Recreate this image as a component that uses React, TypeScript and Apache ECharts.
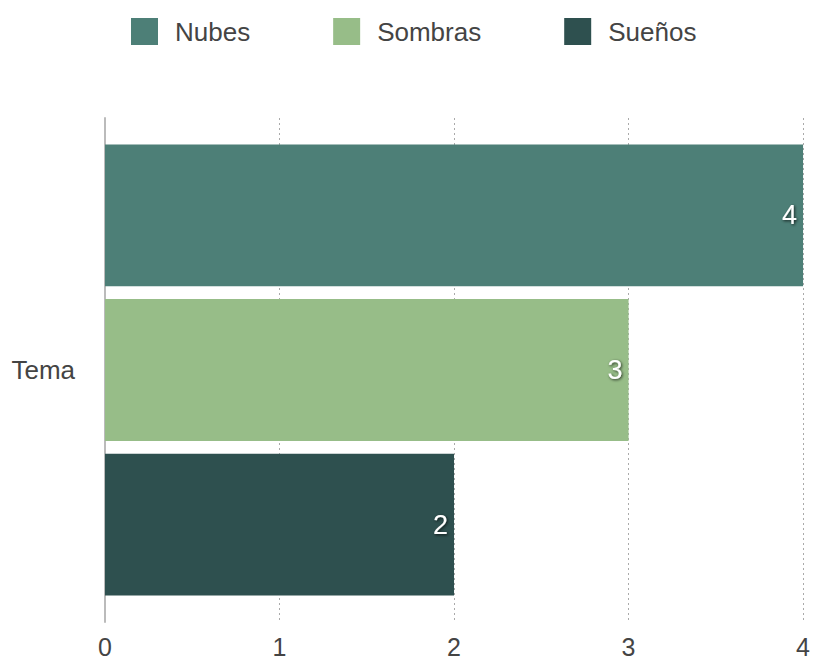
import React, { useEffect, useRef } from "react";
import * as echarts from "echarts";

const categories = ["Tema"];
const seriesNames = ["Nubes", "Sombras", "Sueños"];
const nubesValues = [4];
const sombrasValues = [3];
const suenosValues = [2];
const xTicks = [0, 1, 2, 3, 4];
const colors = ["#4d7f77", "#97bd88", "#2e504f"];

export default function App() {
  const ref = useRef<HTMLDivElement>(null);
  useEffect(() => {
    document.body.style.margin = "0";
    const chart = echarts.init(ref.current!, null, { renderer: "svg" });
    const font = "'Liberation Sans', Arial, Helvetica, sans-serif";
    const label = {
      show: true,
      position: "insideRight",
      distance: 6,
      color: "#ffffff",
      fontSize: 27,
      fontFamily: font,
      textShadowColor: "rgba(0,0,0,0.75)",
      textShadowBlur: 3,
      textShadowOffsetX: 1,
      textShadowOffsetY: 1,
    };
    const data = [nubesValues, sombrasValues, suenosValues];
    chart.setOption({
      animation: false,
      color: colors,
      textStyle: { fontFamily: font },
      legend: {
        top: 18,
        left: 131,
        padding: 0,
        itemWidth: 27,
        itemHeight: 27,
        itemGap: 83,
        icon: "rect",
        textStyle: { fontSize: 26, color: "#444", fontFamily: font, padding: [0, 0, 0, 12] },
        data: seriesNames,
      },
      grid: { left: 105, right: 9, top: 118, bottom: 38, containLabel: false },
      xAxis: {
        type: "value",
        min: xTicks[0],
        max: xTicks[xTicks.length - 1],
        interval: 1,
        axisLine: { show: false },
        axisTick: { show: false },
        axisLabel: { fontSize: 25, color: "#444", margin: 12, fontFamily: font },
        splitLine: { show: true, lineStyle: { color: "#aaa", type: [2, 3], width: 1 } },
      },
      yAxis: {
        type: "category",
        data: categories,
        inverse: true,
        axisLine: { show: true, lineStyle: { color: "#bbb", width: 2 } },
        axisTick: { show: false },
        axisLabel: { fontSize: 26, color: "#444", margin: 30, fontFamily: font },
      },
      series: seriesNames.map((name, i) => ({
        name,
        type: "bar",
        data: data[i],
        barGap: "9%",
        barCategoryGap: "10.5%",
        label,
        itemStyle: { color: colors[i] },
      })),
    });
    return () => chart.dispose();
  }, []);
  return <div ref={ref} style={{ position: "absolute", left: 0, top: 0, width: 813, height: 660 }} />;
}
